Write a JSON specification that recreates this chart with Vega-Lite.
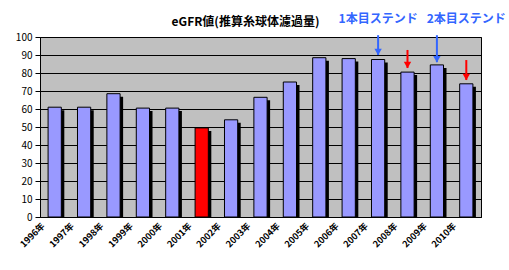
{
  "$schema": "https://vega.github.io/schema/vega-lite/v6.json",
  "autosize": "none",
  "width": 441,
  "height": 180,
  "padding": {"left": 40, "top": 37, "right": 28, "bottom": 53},
  "background": "white",
  "config": {
    "font": "Noto Sans CJK JP",
    "view": {"fill": "#c0c0c0", "stroke": "black", "strokeWidth": 1},
    "axisY": {
      "tickCount": 10,
      "labelOverlap": false,
      "grid": true,
      "gridColor": "black",
      "gridOpacity": 1,
      "domainColor": "black",
      "tickColor": "black",
      "tickSize": 5,
      "labelFontSize": 10,
      "labelColor": "black",
      "labelPadding": 3,
      "title": null
    }
  },
  "title": {
    "text": "eGFR値(推算糸球体濾過量)",
    "fontSize": 12,
    "fontWeight": "bold",
    "color": "black",
    "anchor": "middle",
    "dx": -15,
    "baseline": "bottom",
    "offset": 0,
    "dy": 28
  },
  "datasets": {
    "bars": [
      {"year": "1996年", "value": 61, "kind": "normal"},
      {"year": "1997年", "value": 61, "kind": "normal"},
      {"year": "1998年", "value": 68.5, "kind": "normal"},
      {"year": "1999年", "value": 60.5, "kind": "normal"},
      {"year": "2000年", "value": 60.5, "kind": "normal"},
      {"year": "2001年", "value": 49.5, "kind": "low"},
      {"year": "2002年", "value": 54, "kind": "normal"},
      {"year": "2003年", "value": 66.5, "kind": "normal"},
      {"year": "2004年", "value": 75, "kind": "normal"},
      {"year": "2005年", "value": 88.5, "kind": "normal"},
      {"year": "2006年", "value": 88, "kind": "normal"},
      {"year": "2007年", "value": 87.5, "kind": "normal"},
      {"year": "2008年", "value": 80.5, "kind": "normal"},
      {"year": "2009年", "value": 84.5, "kind": "normal"},
      {"year": "2010年", "value": 74, "kind": "normal"}
    ],
    "arrows": [
      {"year": "2007年", "from": 101, "to": 90, "kind": "stent"},
      {"year": "2008年", "from": 92.8, "to": 82.8, "kind": "drop"},
      {"year": "2009年", "from": 101, "to": 86, "kind": "stent"},
      {"year": "2010年", "from": 87.2, "to": 76.1, "kind": "drop"}
    ],
    "labels": [
      {"year": "2007年", "y": 108, "text": "1本目ステンド"},
      {"year": "2010年", "y": 108, "text": "2本目ステンド"}
    ]
  },
  "encoding": {
    "x": {
      "field": "year",
      "type": "nominal",
      "sort": null,
      "scale": {"paddingInner": 0.55, "paddingOuter": 0.275},
      "axis": {
        "title": null,
        "labelAngle": -45,
        "labelAlign": "right",
        "labelBaseline": "middle",
        "labelFontSize": 9,
        "labelFontWeight": "bold",
        "labelColor": "black",
        "labelPadding": 11,
        "labelOffset": -12,
        "domainColor": "black",
        "tickColor": "black",
        "tickBand": "extent",
        "tickSize": -4
      }
    }
  },
  "layer": [
    {
      "data": {"name": "bars"},
      "mark": {"type": "bar", "fill": "black", "xOffset": 3, "yOffset": 3, "clip": true},
      "encoding": {
        "y": {
          "field": "value",
          "type": "quantitative",
          "scale": {"domain": [0, 100], "nice": false}
        }
      }
    },
    {
      "data": {"name": "bars"},
      "mark": {"type": "bar", "stroke": "black", "strokeWidth": 1},
      "encoding": {
        "y": {"field": "value", "type": "quantitative"},
        "color": {
          "field": "kind",
          "type": "nominal",
          "scale": {"domain": ["normal", "low", "stent", "drop"], "range": ["#9999ff", "#ff0000", "#3366ff", "#ff0000"]},
          "legend": null
        }
      }
    },
    {
      "data": {"name": "arrows"},
      "mark": {"type": "rule", "strokeWidth": 2, "clip": false},
      "encoding": {
        "y": {"field": "from", "type": "quantitative"},
        "y2": {"field": "to"},
        "color": {
          "field": "kind",
          "type": "nominal",
          "scale": {"domain": ["normal", "low", "stent", "drop"], "range": ["#9999ff", "#ff0000", "#3366ff", "#ff0000"]},
          "legend": null
        }
      }
    },
    {
      "data": {"name": "arrows"},
      "mark": {"type": "point", "shape": "triangle-down", "filled": true, "opacity": 1, "size": 55, "yOffset": -3, "clip": false},
      "encoding": {
        "y": {"field": "to", "type": "quantitative"},
        "color": {
          "field": "kind",
          "type": "nominal",
          "scale": {"domain": ["normal", "low", "stent", "drop"], "range": ["#9999ff", "#ff0000", "#3366ff", "#ff0000"]},
          "legend": null
        }
      }
    },
    {
      "data": {"name": "labels"},
      "mark": {"type": "text", "align": "center", "baseline": "alphabetic", "fontSize": 12, "fontWeight": "bold", "color": "#3366ff", "clip": false},
      "encoding": {
        "y": {"field": "y", "type": "quantitative"},
        "text": {"field": "text"}
      }
    }
  ]
}
